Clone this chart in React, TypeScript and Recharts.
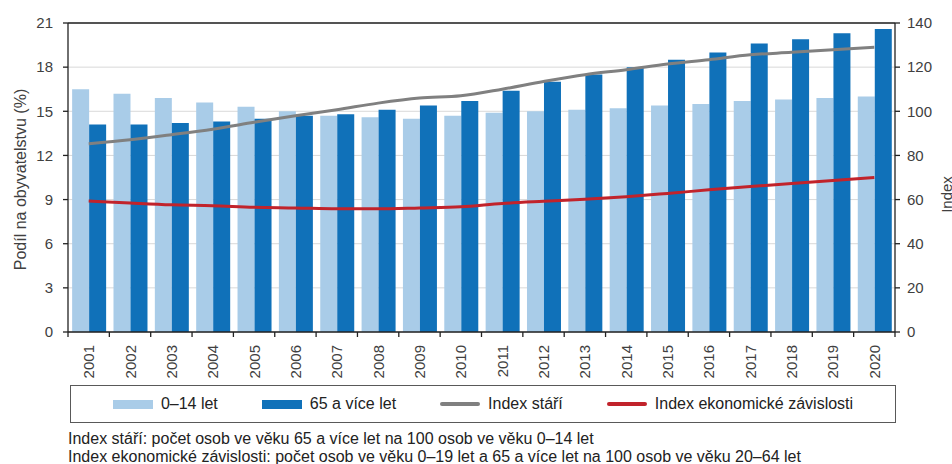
import React from 'react'
import {
  ComposedChart, Bar, Line, XAxis, YAxis, CartesianGrid, ReferenceLine,
} from 'recharts'

const YEARS = ['2001', '2002', '2003', '2004', '2005', '2006', '2007', '2008', '2009', '2010',
  '2011', '2012', '2013', '2014', '2015', '2016', '2017', '2018', '2019', '2020']
// podíl na obyvatelstvu (%)
const CHILDREN = [16.5, 16.2, 15.9, 15.6, 15.3, 15.0, 14.7, 14.6, 14.5, 14.7,
  14.9, 15.0, 15.1, 15.2, 15.4, 15.5, 15.7, 15.8, 15.9, 16.0]
const SENIORS = [14.1, 14.1, 14.2, 14.3, 14.5, 14.7, 14.8, 15.1, 15.4, 15.7,
  16.4, 17.0, 17.5, 18.0, 18.5, 19.0, 19.6, 19.9, 20.3, 20.6]
// indexy
const AGEING = [85.3, 87.1, 89.4, 91.9, 95.0, 98.0, 100.7, 103.7, 106.0, 107.0,
  110.0, 113.5, 116.6, 118.8, 121.4, 123.4, 125.6, 126.7, 127.9, 129.0]
const DEPENDENCY = [59.3, 58.4, 57.6, 57.2, 56.5, 56.2, 55.8, 55.8, 56.2, 56.7,
  58.2, 59.2, 60.1, 61.3, 62.8, 64.4, 65.9, 67.3, 68.6, 70.0]

const LEFT_TICKS = [0, 3, 6, 9, 12, 15, 18, 21]
const RIGHT_TICKS = [0, 20, 40, 60, 80, 100, 120, 140]

const LIGHT = '#a9cce8'
const DARK = '#1071b9'
const GRAY = '#808080'
const RED = '#c1232b'
const AXIS = '#222'
const TEXT = '#404040'
const FONT = '"Liberation Sans", Arial, sans-serif'

const data = YEARS.map((year, i) => ({
  year,
  children: CHILDREN[i],
  seniors: SENIORS[i],
  ageing: AGEING[i],
  dependency: DEPENDENCY[i],
}))

const legendItems = [
  { label: '0–14 let', color: LIGHT, kind: 'bar' },
  { label: '65 a více let', color: DARK, kind: 'bar' },
  { label: 'Index stáří', color: GRAY, kind: 'line' },
  { label: 'Index ekonomické závislosti', color: RED, kind: 'line' },
]

function YearTick(props: any) {
  const { x, y, payload, index } = props
  const half = payload?.offset ?? 0
  return (
    <g>
      {index === 0 && <line x1={x - half} x2={x - half} y1={y - 13} y2={y - 8} stroke={AXIS} strokeWidth={1.3} />}
      <line x1={x + half} x2={x + half} y1={y - 13} y2={y - 8} stroke={AXIS} strokeWidth={1.3} />
      <text
        x={x}
        y={y}
        transform={`rotate(-90 ${x} ${y})`}
        textAnchor="end"
        dominantBaseline="central"
        fontSize={15}
        fill={TEXT}
        fontFamily={FONT}
      >
        {payload.value}
      </text>
    </g>
  )
}

export default function App() {
  return (
    <div style={{ position: 'absolute', left: 0, top: 0, width: 952, height: 464, background: '#fff', fontFamily: FONT, overflow: 'hidden' }}>
      <ComposedChart
        width={952}
        height={464}
        data={data}
        margin={{ top: 23, right: 0, bottom: 82, left: 0 }}
        barCategoryGap="10%"
        barGap={0}
      >
        <CartesianGrid yAxisId="left" vertical={false} stroke="#d9d9d9" strokeWidth={1} />
        <XAxis
          dataKey="year"
          interval={0}
          height={50}
          tickLine={false}
          tickSize={0}
          tickMargin={13}
          axisLine={{ stroke: AXIS, strokeWidth: 1.3 }}
          tick={<YearTick />}
        />
        <YAxis
          yAxisId="left"
          width={68}
          domain={[0, 21]}
          ticks={LEFT_TICKS}
          tickSize={5}
          tickMargin={10}
          axisLine={{ stroke: AXIS, strokeWidth: 1.3 }}
          tickLine={{ stroke: AXIS, strokeWidth: 1.3 }}
          tick={{ fill: TEXT, fontSize: 15, fontFamily: FONT }}
          label={{
            value: 'Podíl na obyvatelstvu (%)', angle: -90, position: 'insideLeft', offset: 20, dy: 2,
            style: { textAnchor: 'middle', fill: TEXT, fontSize: 16, fontFamily: FONT },
          }}
        />
        <YAxis
          yAxisId="right"
          orientation="right"
          width={57}
          domain={[0, 140]}
          ticks={RIGHT_TICKS}
          tickSize={5}
          tickMargin={7}
          axisLine={{ stroke: AXIS, strokeWidth: 1.3 }}
          tickLine={{ stroke: AXIS, strokeWidth: 1.3 }}
          tick={{ fill: TEXT, fontSize: 15, fontFamily: FONT }}
          label={{
            value: 'Index', angle: -90, position: 'insideRight', offset: 5, dy: 17,
            style: { textAnchor: 'middle', fill: TEXT, fontSize: 15, fontFamily: FONT },
          }}
        />
        <ReferenceLine yAxisId="left" y={21} stroke={AXIS} strokeWidth={1.3} />
        <Bar yAxisId="left" dataKey="children" fill={LIGHT} isAnimationActive={false} />
        <Bar yAxisId="left" dataKey="seniors" fill={DARK} isAnimationActive={false} />
        <Line yAxisId="right" type="monotone" dataKey="ageing" stroke={GRAY} strokeWidth={3} dot={false} isAnimationActive={false} />
        <Line yAxisId="right" type="monotone" dataKey="dependency" stroke={RED} strokeWidth={3} dot={false} isAnimationActive={false} />
      </ComposedChart>

      <div style={{
        position: 'absolute', left: 70, top: 385, width: 826, height: 38, boxSizing: 'border-box',
        border: '1.5px solid #595959', display: 'flex', alignItems: 'center', justifyContent: 'center', gap: 44,
      }}>
        {legendItems.map((item) => (
          <div key={item.label} style={{ display: 'flex', alignItems: 'center', gap: 8 }}>
            <span style={{
              display: 'inline-block', width: 40, height: item.kind === 'bar' ? 9 : 4,
              background: item.color, borderRadius: item.kind === 'line' ? 2 : 0,
            }} />
            <span style={{ fontSize: 16, color: '#222', whiteSpace: 'nowrap' }}>{item.label}</span>
          </div>
        ))}
      </div>

      <div style={{ position: 'absolute', left: 68, top: 430, fontSize: 16, lineHeight: '18px', color: '#222', whiteSpace: 'nowrap' }}>
        <div>Index stáří: počet osob ve věku 65 a více let na 100 osob ve věku 0–14 let</div>
        <div>Index ekonomické závislosti: počet osob ve věku 0–19 let a 65 a více let na 100 osob ve věku 20–64 let</div>
      </div>
    </div>
  )
}
